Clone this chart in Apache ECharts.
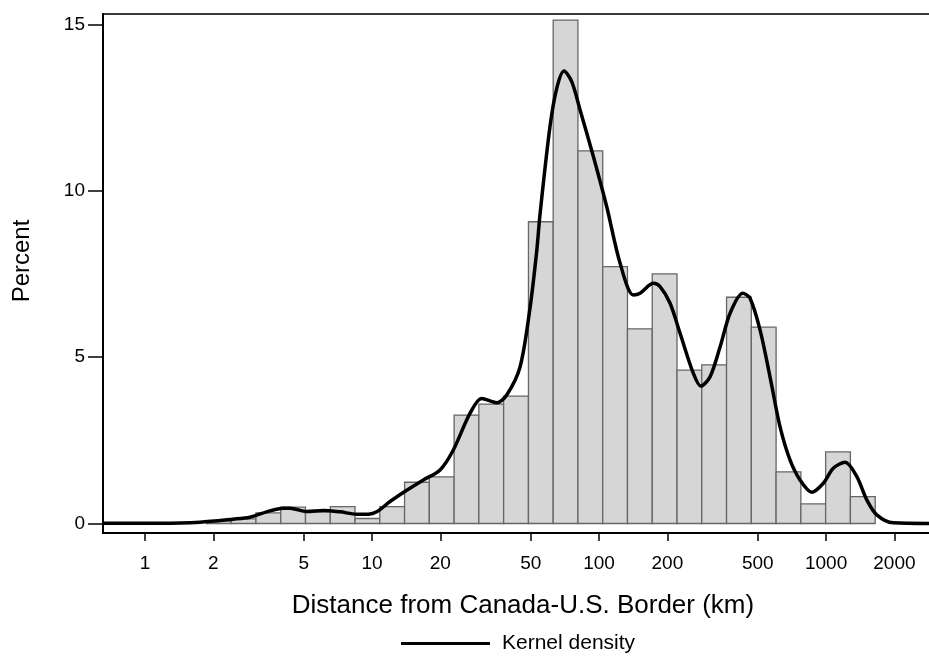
<!DOCTYPE html>
<html>
<head>
<meta charset="utf-8">
<script src="https://cdn.jsdelivr.net/npm/echarts@6/dist/echarts.min.js"></script>
<style>
html,body{margin:0;padding:0;background:#fff;}
#chart{width:929px;height:658px;}
</style>
</head>
<body>
<div id="chart"></div>
<script>
// Histogram bin edges (km) and percent per bin
const binEdgesKm = [1.865, 2.397, 3.081, 3.962, 5.093, 6.547, 8.415, 10.82, 13.91, 17.88, 22.99, 29.55, 37.99, 48.86, 62.80, 80.72, 103.8, 133.4, 171.5, 220.5, 283.4, 364.4, 468.5, 602.3, 774.3, 995.4, 1279.6, 1645.6];
const binPercent = [0.08, 0.14, 0.32, 0.49, 0.35, 0.51, 0.15, 0.51, 1.24, 1.40, 3.26, 3.59, 3.83, 9.07, 15.13, 11.2, 7.72, 5.85, 7.5, 4.61, 4.77, 6.8, 5.9, 1.55, 0.59, 2.15, 0.81];

// Kernel density curve (km, percent)
const densityKm = [0.653, 0.859, 1.164, 1.747, 2.442, 2.901, 3.437, 4.055, 4.353, 5.157, 6.103, 7.228, 8.562, 9.632, 10.49, 12.0, 14.22, 16.83, 19.94, 22.81, 27.0, 30.4, 35.4, 39.2, 44.9, 49.7, 53.2, 55.0, 60.8, 65.1, 70.1, 75.8, 82.5, 94.4, 108.1, 123.8, 141.6, 151.6, 173.5, 185.7, 205.5, 227.4, 260.3, 280.6, 308.4, 341.3, 377.7, 429.6, 462.5, 511.8, 566.3, 626.7, 693.5, 767.5, 864.5, 972.6, 1076, 1213, 1366, 1511, 1672, 1978, 2843];
const densityPct = [0.01, 0.01, 0.01, 0.04, 0.13, 0.19, 0.35, 0.46, 0.46, 0.36, 0.39, 0.35, 0.28, 0.28, 0.35, 0.66, 1.0, 1.31, 1.61, 2.21, 3.31, 3.76, 3.63, 3.86, 4.71, 6.5, 8.22, 9.32, 11.93, 13.08, 13.6, 13.28, 12.43, 11.03, 9.52, 7.82, 6.87, 6.92, 7.22, 7.12, 6.62, 5.72, 4.51, 4.13, 4.41, 5.31, 6.32, 6.92, 6.77, 5.82, 4.41, 2.91, 1.91, 1.31, 0.94, 1.21, 1.66, 1.84, 1.41, 0.71, 0.26, 0.02, 0.0];

// Axis tick labels
const xTickKm = [1, 2, 5, 10, 20, 50, 100, 200, 500, 1000, 2000];
const yTicks = [0, 5, 10, 15];

const FONT = '"Liberation Sans", Arial, Helvetica, sans-serif';
const lg = v => Math.log10(v);

const barData = binPercent.map((p, i) => [lg(binEdgesKm[i]), lg(binEdgesKm[i + 1]), p]);
const lineData = densityKm.map((k, i) => [lg(k), densityPct[i]]);

const chart = echarts.init(document.getElementById('chart'), null, {renderer: 'canvas'});
chart.setOption({
  animation: false,
  backgroundColor: '#ffffff',
  textStyle: {fontFamily: FONT},
  grid: {left: 103, top: 14, width: 840, height: 519, show: true, borderColor: '#3a3a3a', borderWidth: 2, backgroundColor: 'transparent', containLabel: false, outerBoundsMode: 'none'},
  xAxis: {
    type: 'value',
    min: -0.185,
    max: 3.515,
    name: 'Distance from Canada-U.S. Border (km)',
    nameLocation: 'middle',
    nameGap: 60,
    nameTextStyle: {fontSize: 26, color: '#000', fontFamily: FONT},
    axisLine: {show: true, onZero: false, lineStyle: {color: '#000', width: 2}},
    axisTick: {show: true, length: 8, inside: false, customValues: xTickKm.map(lg), lineStyle: {color: '#000', width: 1.5}},
    axisLabel: {show: true, customValues: xTickKm.map(lg), margin: 21, fontSize: 19, color: '#000', fontFamily: FONT,
      formatter: v => String(Math.round(Math.pow(10, v)))},
    splitLine: {show: false}
  },
  yAxis: {
    type: 'value',
    min: -0.2855,
    max: 15.314,
    axisLine: {show: true, onZero: false, lineStyle: {color: '#000', width: 2}},
    axisTick: {show: true, length: 15, customValues: yTicks, lineStyle: {color: '#000', width: 1.5}},
    axisLabel: {show: true, customValues: yTicks, margin: 18, fontSize: 19, color: '#000', fontFamily: FONT},
    splitLine: {show: false}
  },
  legend: {
    show: true,
    left: 401,
    top: 633,
    padding: 0,
    itemWidth: 89,
    itemHeight: 3,
    icon: 'rect',
    data: ['Kernel density'],
    textStyle: {fontSize: 21, color: '#000', fontFamily: FONT, padding: [0, 0, 0, 7]}
  },
  graphic: [{
    type: 'text',
    x: 22, y: 261,
    rotation: Math.PI / 2,
    style: {text: 'Percent', fontSize: 24, fontFamily: FONT, fill: '#000', align: 'center', verticalAlign: 'middle'}
  }],
  series: [
    {
      type: 'custom',
      name: 'Histogram',
      data: barData,
      encode: {x: [0, 1], y: 2},
      z: 2,
      renderItem: function (params, api) {
        const p0 = api.coord([api.value(0), 0]);
        const p1 = api.coord([api.value(1), api.value(2)]);
        return {
          type: 'rect',
          shape: {x: p0[0], y: p1[1], width: p1[0] - p0[0], height: p0[1] - p1[1]},
          style: {fill: '#d6d6d6', stroke: '#666666', lineWidth: 1.3}
        };
      }
    },
    {
      type: 'line',
      name: 'Kernel density',
      data: lineData,
      smooth: 0.3,
      symbol: 'none',
      z: 5,
      itemStyle: {color: '#000'},
      lineStyle: {color: '#000', width: 3.5}
    }
  ]
});
</script>
</body>
</html>
